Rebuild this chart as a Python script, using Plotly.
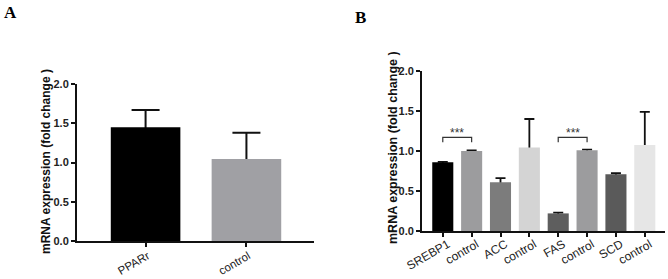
import plotly.graph_objects as go

# ---------------- data ----------------
labels_a = ["PPARr", "control"]
values_a = [1.45, 1.045]
errors_a = [0.22, 0.335]
colors_a = ["#000000", "#a0a0a4"]

labels_b = ["SREBP1", "control", "ACC", "control", "FAS", "control", "SCD", "control"]
values_b = [0.86, 1.0, 0.61, 1.045, 0.22, 1.01, 0.71, 1.075]
errors_b = [0.005, 0.008, 0.05, 0.355, 0.01, 0.006, 0.012, 0.415]
colors_b = ["#000000", "#9c9c9e", "#7c7c7c", "#d4d4d4", "#5e5e5e", "#9c9c9e", "#5a5a5a", "#e6e6e6"]

sig_pairs_b = [(0, 1), (4, 5)]
sig_text = "***"

yticks = [0.0, 0.5, 1.0, 1.5, 2.0]
ytick_text = ["0.0", "0.5", "1.0", "1.5", "2.0"]
ytitle = "mRNA expression (fold change )"

W, H = 668, 279
fig = go.Figure()

xa = list(range(len(labels_a)))
xb = list(range(len(labels_b)))

# hidden bars carrying the upper error whiskers (lower part hidden beneath visible bars)
fig.add_trace(go.Bar(x=xa, y=values_a, xaxis="x", yaxis="y", width=0.69,
                     marker=dict(color="rgba(0,0,0,0)", line=dict(width=0)),
                     error_y=dict(type="data", symmetric=False, array=errors_a, arrayminus=values_a,
                                  color="#111111", thickness=2, width=14),
                     showlegend=False, hoverinfo="skip"))
fig.add_trace(go.Bar(x=xa, y=values_a, xaxis="x", yaxis="y", width=0.69,
                     marker=dict(color=colors_a, line=dict(width=0)), showlegend=False))

fig.add_trace(go.Bar(x=xb, y=values_b, xaxis="x2", yaxis="y2", width=0.73,
                     marker=dict(color="rgba(0,0,0,0)", line=dict(width=0)),
                     error_y=dict(type="data", symmetric=False, array=errors_b, arrayminus=values_b,
                                  color="#111111", thickness=1.8, width=5),
                     showlegend=False, hoverinfo="skip"))
fig.add_trace(go.Bar(x=xb, y=values_b, xaxis="x2", yaxis="y2", width=0.73,
                     marker=dict(color=colors_b, line=dict(width=0)), showlegend=False))

axis_common = dict(showgrid=False, zeroline=False, showline=True, linecolor="#111111",
                   ticks="outside", tickcolor="#111111", ticklen=4, automargin=False)
ytickfont = dict(size=11, family="Arial, Liberation Sans, sans-serif", color="#222222", weight="bold")

fig.update_layout(
    width=W, height=H,
    margin=dict(l=0, r=0, t=0, b=0, autoexpand=False),
    paper_bgcolor="white", plot_bgcolor="white",
    barmode="overlay",
    font=dict(family="Arial, Liberation Sans, sans-serif", color="#111111"),
    xaxis=dict(domain=[77 / W, 314 / W], anchor="y", range=[-0.68, 1.67],
               tickmode="array", tickvals=xa, ticktext=labels_a, tickangle=-30,
               ticklabelstandoff=-2, ticklabelshift=2,
               tickfont=dict(size=11.5, color="#222222"), linewidth=2, tickwidth=1.5, **axis_common),
    yaxis=dict(domain=[38 / H, 195 / H], anchor="x", range=[0, 2.0],
               tickmode="array", tickvals=yticks, ticktext=ytick_text,
               tickfont=ytickfont, linewidth=2, tickwidth=1.5, **axis_common),
    xaxis2=dict(domain=[422 / W, 665 / W], anchor="y2", range=[-0.72, 7.7],
                tickmode="array", tickvals=xb, ticktext=labels_b, tickangle=-30,
                ticklabelstandoff=-4, ticklabelshift=5,
                tickfont=dict(size=12, color="#222222"), linewidth=1.8, tickwidth=1.5, **axis_common),
    yaxis2=dict(domain=[48 / H, 208 / H], anchor="x2", range=[0, 2.0],
                tickmode="array", tickvals=yticks, ticktext=ytick_text,
                tickfont=ytickfont, linewidth=1.8, tickwidth=1.5, **axis_common),
)

# y-axis titles (bold)
fig.add_annotation(text="<b>" + ytitle + "</b>", textangle=-90, xref="paper", yref="paper",
                   x=46 / W, y=(H - 162) / H, xanchor="center", yanchor="middle",
                   showarrow=False, font=dict(size=12, color="#111111"))
fig.add_annotation(text="<b>" + ytitle + "</b>", textangle=-90, xref="paper", yref="paper",
                   x=393 / W, y=(H - 147) / H, xanchor="center", yanchor="middle",
                   showarrow=False, font=dict(size=12.5, color="#111111"))

# panel letters
fig.add_annotation(text="<b>A</b>", xref="paper", yref="paper", x=10 / W, y=(H - 13) / H,
                   xanchor="center", yanchor="middle", showarrow=False,
                   font=dict(size=17, family="Liberation Serif, Times New Roman, serif", color="#000"))
fig.add_annotation(text="<b>B</b>", xref="paper", yref="paper", x=360 / W, y=(H - 17) / H,
                   xanchor="center", yanchor="middle", showarrow=False,
                   font=dict(size=17, family="Liberation Serif, Times New Roman, serif", color="#000"))

# significance brackets
for a, b in sig_pairs_b:
    fig.add_shape(type="path", xref="x2", yref="y2",
                  path=f"M {a},1.11 L {a},1.17 L {b},1.17 L {b},1.11",
                  line=dict(color="#333333", width=1.2))
    fig.add_annotation(text=sig_text, xref="x2", yref="y2", x=(a + b) / 2, y=1.23,
                       xanchor="center", yanchor="middle", showarrow=False,
                       font=dict(size=12, color="#333333"))

fig.write_html("out.html", config={"displayModeBar": False},
               post_script="document.body.style.margin='0px';document.body.style.overflow='hidden';")
